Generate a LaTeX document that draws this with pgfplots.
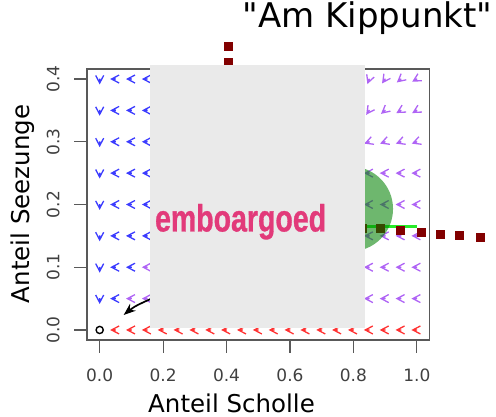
\documentclass[border=0pt]{standalone}
\usepackage{fontspec}
\setmainfont{DejaVu Sans}
\newfontfamily\qfont[Ligatures=ResetAll]{DejaVu Sans}
\newfontfamily\embfont[FakeStretch=0.75,FakeBold=0.8]{Liberation Sans}
\usepackage{pgfplots}
\pgfplotsset{compat=1.18}
\usetikzlibrary{arrows.meta}
\definecolor{cblue}{RGB}{60,60,255}
\definecolor{cpurp}{RGB}{175,100,245}
\definecolor{cred}{RGB}{255,50,50}
\definecolor{dred}{RGB}{130,0,0}
\definecolor{cgreen}{RGB}{0,128,0}
\definecolor{lgreen}{RGB}{40,235,40}
\definecolor{embgrey}{RGB}{234,234,234}
\definecolor{embpink}{RGB}{226,58,122}
\pgfdeclareplotmark{chev}{%
  \pgfpathmoveto{\pgfqpoint{0.9\pgfplotmarksize}{\pgfplotmarksize}}%
  \pgfpathlineto{\pgfqpoint{-\pgfplotmarksize}{0pt}}%
  \pgfpathlineto{\pgfqpoint{0.9\pgfplotmarksize}{-\pgfplotmarksize}}%
  \pgfpathmoveto{\pgfqpoint{-\pgfplotmarksize}{0pt}}%
  \pgfpathlineto{\pgfqpoint{0.1\pgfplotmarksize}{0pt}}%
  \pgfusepathqstroke}
\pgfplotsset{chev/.style={only marks, mark=chev, mark size=4bp, line width=1.3bp}}
\begin{document}
\begin{tikzpicture}
\useasboundingbox (0,0) rectangle (496bp,417bp);
\begin{axis}[
  at={(87bp,77bp)}, anchor=south west,
  scale only axis, width=342.5bp, height=271bp,
  xmin=-0.04, xmax=1.04, ymin=-0.016, ymax=0.416,
  clip=false, clip marker paths=true,
  axis line style={black!65, line width=1.2bp},
  xtick={0,0.2,0.4,0.6,0.8,1}, ytick={0,0.1,0.2,0.3,0.4},
  xtick pos=left, ytick pos=left,
  tick align=outside, major tick length=12.5bp,
  tick style={black!65, line width=1.2bp},
  /pgf/number format/assume math mode=true,
  /pgf/number format/fixed,
  /pgf/number format/fixed zerofill,
  /pgf/number format/precision=1,
  ticklabel style={font=\fontsize{17bp}{20bp}\selectfont, text=black!75},
  xticklabel style={anchor=base, yshift=-29bp},
  yticklabel style={rotate=90, anchor=base, yshift=15bp},
  xlabel={Anteil Scholle},
  ylabel={Anteil Seezunge},
  label style={font=\fontsize{24.5bp}{29bp}\selectfont},
  xlabel style={at={(axis description cs:0.422,0)}, anchor=base, yshift=-72bp},
  ylabel style={at={(axis description cs:0,0.502)}, anchor=base, yshift=57bp},
  title={{\qfont"Am Kippunkt"}},
  title style={font=\fontsize{34bp}{40bp}\selectfont, at={(axis description cs:0.819,1)}, anchor=base, yshift=36bp},
]
% vector field: blue
\addplot[chev, cblue] coordinates {
 (0.05,0.05)(0.05,0.1)(0.05,0.15)(0.05,0.2)(0.05,0.25)(0.05,0.3)(0.05,0.35)(0.05,0.4)
 (0.1,0.1)(0.1,0.15)(0.1,0.2)(0.1,0.25)(0.1,0.3)(0.1,0.35)(0.1,0.4)
 (0.15,0.15)(0.15,0.2)(0.15,0.25)(0.15,0.3)(0.15,0.35)(0.15,0.4)};
\addplot[chev, cblue, mark options={rotate=90}] coordinates {
 (0,0.05)(0,0.1)(0,0.15)(0,0.2)(0,0.25)(0,0.3)(0,0.35)(0,0.4)};
% purple
\addplot[chev, cpurp] coordinates {
 (0.1,0.05)(0.15,0.05)(0.15,0.1)
 (0.85,0.05)(0.9,0.05)(0.95,0.05)(1,0.05)
 (0.85,0.1)(0.9,0.1)(0.95,0.1)(1,0.1)
 (0.85,0.15)(0.9,0.15)(0.95,0.15)(1,0.15)
 (0.85,0.2)(0.9,0.2)(0.95,0.2)(1,0.2)
 (0.85,0.25)(0.9,0.25)(0.95,0.25)(1,0.25)};
\addplot[chev, cpurp, mark options={rotate=20}] coordinates {
 (0.85,0.3)(0.9,0.3)(0.95,0.3)(1,0.3)};
\addplot[chev, cpurp, mark options={rotate=30}] coordinates {
 (0.95,0.35)(1,0.35)(1,0.4)};
\addplot[chev, cpurp, mark options={rotate=40}] coordinates {
 (0.9,0.35)(0.95,0.4)};
\addplot[chev, cpurp, mark options={rotate=55}] coordinates {
 (0.85,0.35)(0.9,0.4)};
\addplot[chev, cpurp, mark options={rotate=70}] coordinates {
 (0.85,0.4)};
% red
\addplot[chev, cred] coordinates {
 (0.05,0)(0.1,0)(0.15,0)(0.2,0)(0.25,0)(0.3,0)(0.35,0)(0.4,0)(0.45,0)(0.5,0)
 (0.55,0)(0.6,0)(0.65,0)(0.7,0)(0.75,0)(0.8,0)(0.85,0)(0.9,0)(0.95,0)(1,0)};
% equilibrium at origin
\addplot[only marks, mark=o, mark size=3.6bp, black, line width=1.4bp] coordinates {(0,0)};
% trajectory arrow
\addplot[black, line width=1.7bp, smooth, -{Stealth[length=12bp,width=9bp]}] coordinates {
 (0.35,0.075)(0.2,0.057)(0.159,0.049)(0.11,0.037)(0.0757,0.0239)};
% green line
\addplot[lgreen, line width=2.5bp] coordinates {(0.6,0.165)(1.0,0.165)};
% dark red dotted path
\addplot[only marks, mark=square*, mark size=4bp, dred] coordinates {
 (0.404,0.452)(0.404,0.427)
 (0.827,0.162)(0.884,0.162)(0.947,0.159)(1.013,0.156)(1.073,0.153)(1.133,0.151)(1.199,0.148)};
% green disc
\addplot[only marks, mark=*, mark size=42.5bp, mark options={draw opacity=0, fill=cgreen, fill opacity=0.57}] coordinates {(0.791,0.193)};
% embargo mask corners
\coordinate (m1) at (axis cs:0.159,0.0027);
\coordinate (m2) at (axis cs:0.837,0.423);
\coordinate (embpos) at (axis cs:0.174,0.157);
\end{axis}
\fill[embgrey] (m1) rectangle (m2);
\node[anchor=base west, inner sep=0pt, text=embpink, font=\embfont\bfseries\fontsize{38bp}{44bp}\selectfont] at (embpos) {emboargoed};
\end{tikzpicture}
\end{document}
